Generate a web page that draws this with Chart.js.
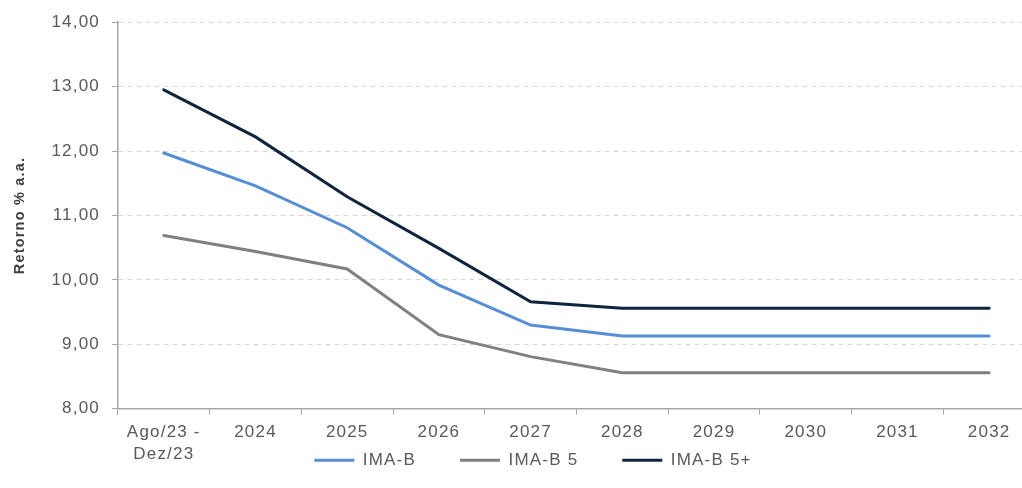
<!DOCTYPE html>
<html>
<head>
<meta charset="utf-8">
<script src="https://cdn.jsdelivr.net/npm/chart.js@4/dist/chart.umd.min.js"></script>
<style>
    html, body { margin: 0; padding: 0; background: #fff; overflow: hidden; }
    #wrap { width: 1036px; height: 488px; }
</style>
</head>
<body>
<div id="wrap"><canvas id="retornoChart"></canvas></div>
<script>
// Categories (x axis)
const categories = [['Ago/23 -', 'Dez/23'], '2024', '2025', '2026', '2027', '2028', '2029', '2030', '2031', '2032'];

// Series values
const imaB = [11.97, 11.46, 10.81, 9.92, 9.30, 9.13, 9.13, 9.13, 9.13, 9.13];
const imaB5 = [10.69, 10.44, 10.17, 9.15, 8.81, 8.56, 8.56, 8.56, 8.56, 8.56];
const imaB5Plus = [12.95, 12.22, 11.29, 10.49, 9.66, 9.56, 9.56, 9.56, 9.56, 9.56];

// Y axis range
const yMin = 8;
const yMax = 14;
const yStep = 1;

const textColor = '#595959';
const fontFamily = '"Liberation Sans", Arial, sans-serif';

// Spread the letters a bit, like the original export
const spacingPlugin = {
    id: 'letterSpacing',
    beforeUpdate(chart) { chart.ctx.letterSpacing = '1.2px'; },
    beforeDraw(chart) { chart.ctx.letterSpacing = '1.2px'; }
};

// Legend sits right under the x labels; keep its wide item spacing
// without letting that padding eat the plot height
const legendPlacePlugin = {
    id: 'legendPlace',
    afterLayout(chart) {
        const lg = chart.legend;
        if (!lg) return;
        lg.top = chart.chartArea.bottom - 1;
        lg.bottom = chart.height;
        lg.left += 10;
        lg.right += 10;
    }
};

function lineSet(label, data, color) {
    return {
        label: label,
        data: data,
        borderColor: color,
        backgroundColor: color,
        borderWidth: 3,
        borderCapStyle: 'round',
        pointRadius: 0,
        pointStyle: 'line',
        tension: 0,
        fill: false
    };
}

const ctx = document.getElementById('retornoChart');
const chart = new Chart(ctx, {
    type: 'line',
    data: {
        labels: categories,
        datasets: [
            lineSet('IMA-B', imaB, '#558ED5'),
            lineSet('IMA-B 5', imaB5, '#808080'),
            lineSet('IMA-B 5+', imaB5Plus, '#0F243E')
        ]
    },
    plugins: [spacingPlugin, legendPlacePlugin],
    options: {
        responsive: true,
        maintainAspectRatio: false,
        animation: false,
        layout: { padding: { top: 12, right: 1, left: 11, bottom: 3 } },
        plugins: {
            tooltip: { enabled: false },
            legend: {
                position: 'bottom',
                maxHeight: 14,
                labels: {
                    color: textColor,
                    font: { family: fontFamily, size: 17 },
                    usePointStyle: true,
                    pointStyle: 'line',
                    pointStyleWidth: 40,
                    padding: 44
                }
            }
        },
        scales: {
            x: {
                offset: true,
                grid: {
                    offset: true,
                    drawOnChartArea: false,
                    drawTicks: true,
                    tickLength: 6,
                    tickColor: '#A6A6A6',
                    color: '#A6A6A6'
                },
                border: { display: true, color: '#A6A6A6', width: 1.5 },
                ticks: {
                    color: textColor,
                    font: { family: fontFamily, size: 17, lineHeight: 1.3 },
                    maxRotation: 0,
                    autoSkip: false,
                    padding: 6
                }
            },
            y: {
                min: yMin,
                max: yMax,
                grid: {
                    color: '#D9D9D9',
                    lineWidth: 1,
                    drawTicks: true,
                    tickLength: 6,
                    tickColor: '#A6A6A6'
                },
                border: { display: true, color: '#A6A6A6', width: 1.5, dash: [5, 4] },
                ticks: {
                    stepSize: yStep,
                    color: textColor,
                    font: { family: fontFamily, size: 17 },
                    padding: 12,
                    callback: function(value) {
                        return value.toFixed(2).replace('.', ',');
                    }
                },
                title: {
                    display: true,
                    text: 'Retorno % a.a.',
                    color: '#404040',
                    font: { family: fontFamily, size: 14.5, weight: 'bold' },
                    padding: { top: 0, bottom: 11 }
                }
            }
        }
    }
});
</script>
</body>
</html>
